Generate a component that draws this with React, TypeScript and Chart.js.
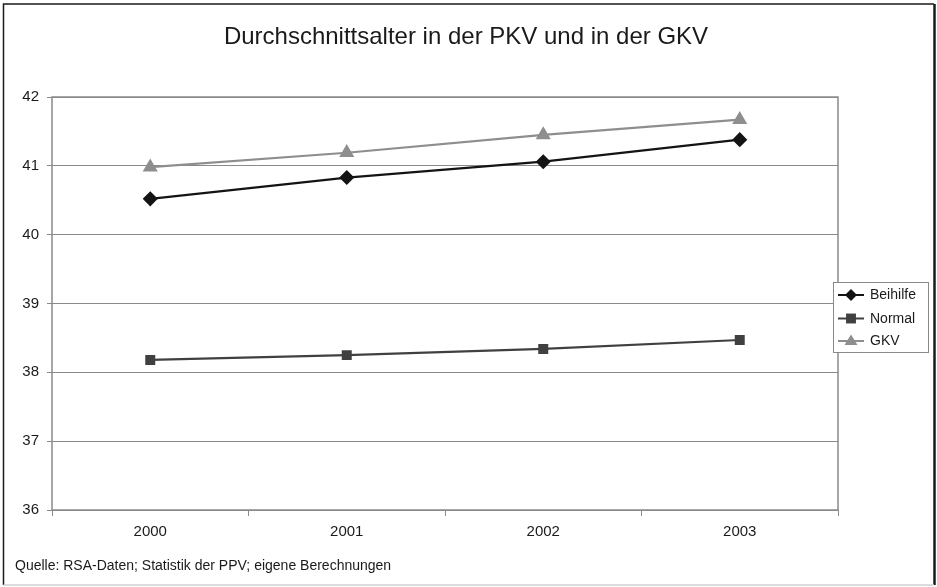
import React, { useEffect, useRef } from "react";
import { Chart, registerables } from "chart.js";

Chart.register(...registerables);

const TITLE = "Durchschnittsalter in der PKV und in der GKV";
const SOURCE = "Quelle: RSA-Daten; Statistik der PPV; eigene Berechnungen";
const categories = ["2000", "2001", "2002", "2003"];
const beihilfe = [40.52, 40.83, 41.06, 41.38];
const normal = [38.18, 38.25, 38.34, 38.47];
const gkv = [40.98, 41.19, 41.45, 41.67];
const seriesNames = ["Beihilfe", "Normal", "GKV"];
const yMin = 36;
const yMax = 42;

const FONT = "'Liberation Sans', Arial, sans-serif";
const COLORS = ["#141414", "#404040", "#8e8e8e"];
const STYLES: any[] = ["rectRot", "rect", "triangle"];
const RADII = [6, 5.5, 6.5];

const framePlugin = {
  id: "framePlugin",
  beforeDraw(chart: any) {
    const ctx = chart.ctx;
    ctx.save();
    ctx.fillStyle = "#fff";
    ctx.fillRect(0, 0, chart.width, chart.height);
    ctx.strokeStyle = "#1a1a1a";
    ctx.lineWidth = 1.5;
    ctx.beginPath();
    ctx.moveTo(3.5, 585);
    ctx.lineTo(3.5, 4);
    ctx.lineTo(934, 4);
    ctx.stroke();
    ctx.lineWidth = 2.5;
    ctx.beginPath();
    ctx.moveTo(934.5, 4);
    ctx.lineTo(934.5, 585);
    ctx.stroke();
    ctx.strokeStyle = "#d0d0d0";
    ctx.lineWidth = 1.5;
    ctx.beginPath();
    ctx.moveTo(3.5, 585);
    ctx.lineTo(934, 585);
    ctx.stroke();
    ctx.restore();
  },
  afterDraw(chart: any) {
    const ctx = chart.ctx;
    const a = chart.chartArea;
    ctx.save();
    // plot border
    ctx.strokeStyle = "#8a8a8a";
    ctx.lineWidth = 1.5;
    ctx.strokeRect(a.left, a.top, a.right - a.left, a.bottom - a.top);
    // title
    ctx.fillStyle = "#1a1a1a";
    ctx.font = `24px ${FONT}`;
    ctx.textAlign = "center";
    ctx.textBaseline = "middle";
    ctx.fillText(TITLE, 466, 37);
    // source
    ctx.font = `14px ${FONT}`;
    ctx.textAlign = "left";
    ctx.fillText(SOURCE, 15, 566);
    // legend
    const bx = 833, by = 282, bw = 95, bh = 70;
    ctx.fillStyle = "#fff";
    ctx.fillRect(bx, by, bw, bh);
    ctx.strokeStyle = "#8a8a8a";
    ctx.lineWidth = 1;
    ctx.strokeRect(bx + 0.5, by + 0.5, bw, bh);
    const rows = [295, 318.5, 341];
    chart.data.datasets.forEach((ds: any, i: number) => {
      const y = rows[i];
      ctx.strokeStyle = ds.borderColor;
      ctx.lineWidth = 2;
      ctx.beginPath();
      ctx.moveTo(838, y);
      ctx.lineTo(864, y);
      ctx.stroke();
      ctx.fillStyle = ds.borderColor;
      const r = ds.pointRadius;
      ctx.beginPath();
      if (ds.pointStyle === "rectRot") {
        ctx.moveTo(851, y - r);
        ctx.lineTo(851 + r, y);
        ctx.lineTo(851, y + r);
        ctx.lineTo(851 - r, y);
        ctx.closePath();
      } else if (ds.pointStyle === "rect") {
        const s = r * 0.9;
        ctx.rect(851 - s, y - s, 2 * s, 2 * s);
      } else {
        ctx.moveTo(851, y - r);
        ctx.lineTo(851 + r, y + r * 0.6);
        ctx.lineTo(851 - r, y + r * 0.6);
        ctx.closePath();
      }
      ctx.fill();
      ctx.fillStyle = "#1a1a1a";
      ctx.font = `14px ${FONT}`;
      ctx.textAlign = "left";
      ctx.textBaseline = "middle";
      ctx.fillText(ds.label, 870, y + 0.5);
    });
    ctx.restore();
  },
};

export default function App() {
  const ref = useRef<HTMLCanvasElement>(null);
  useEffect(() => {
    if (!ref.current) return;
    const values = [beihilfe, normal, gkv];
    const chart = new Chart(ref.current, {
      type: "line",
      data: {
        labels: categories,
        datasets: values.map((v, i) => ({
          label: seriesNames[i],
          data: v,
          borderColor: COLORS[i],
          backgroundColor: COLORS[i],
          pointBackgroundColor: COLORS[i],
          pointBorderColor: COLORS[i],
          pointStyle: STYLES[i],
          pointRadius: RADII[i],
          borderWidth: 2.2,
          tension: 0,
          fill: false,
        })),
      },
      options: {
        responsive: false,
        animation: false,
        layout: { padding: { left: 0, top: 97, right: 99, bottom: 0 } },
        plugins: {
          legend: { display: false },
          title: { display: false },
          tooltip: { enabled: false },
        },
        scales: {
          x: {
            type: "category",
            offset: true,
            grid: {
              offset: true,
              drawOnChartArea: false,
              drawTicks: true,
              tickLength: 6,
              color: "#8a8a8a",
            },
            border: { display: false },
            ticks: {
              color: "#1a1a1a",
              font: { family: FONT, size: 15 },
              padding: 7,
              maxRotation: 0,
            },
            afterFit(scale: any) {
              scale.height = 77;
            },
          },
          y: {
            min: yMin,
            max: yMax,
            grid: {
              color: "#8a8a8a",
              lineWidth: 1,
              drawTicks: true,
              tickLength: 5,
            },
            border: { display: false },
            ticks: {
              stepSize: 1,
              color: "#1a1a1a",
              font: { family: FONT, size: 15 },
              padding: 8,
            },
            afterFit(scale: any) {
              scale.width = 52;
            },
          },
        },
      },
      plugins: [framePlugin],
    } as any);
    return () => chart.destroy();
  }, []);
  return (
    <div style={{ position: "fixed", left: 0, top: 0, width: 937, height: 587 }}>
      <canvas ref={ref} width={937} height={587} style={{ display: "block" }} />
    </div>
  );
}
